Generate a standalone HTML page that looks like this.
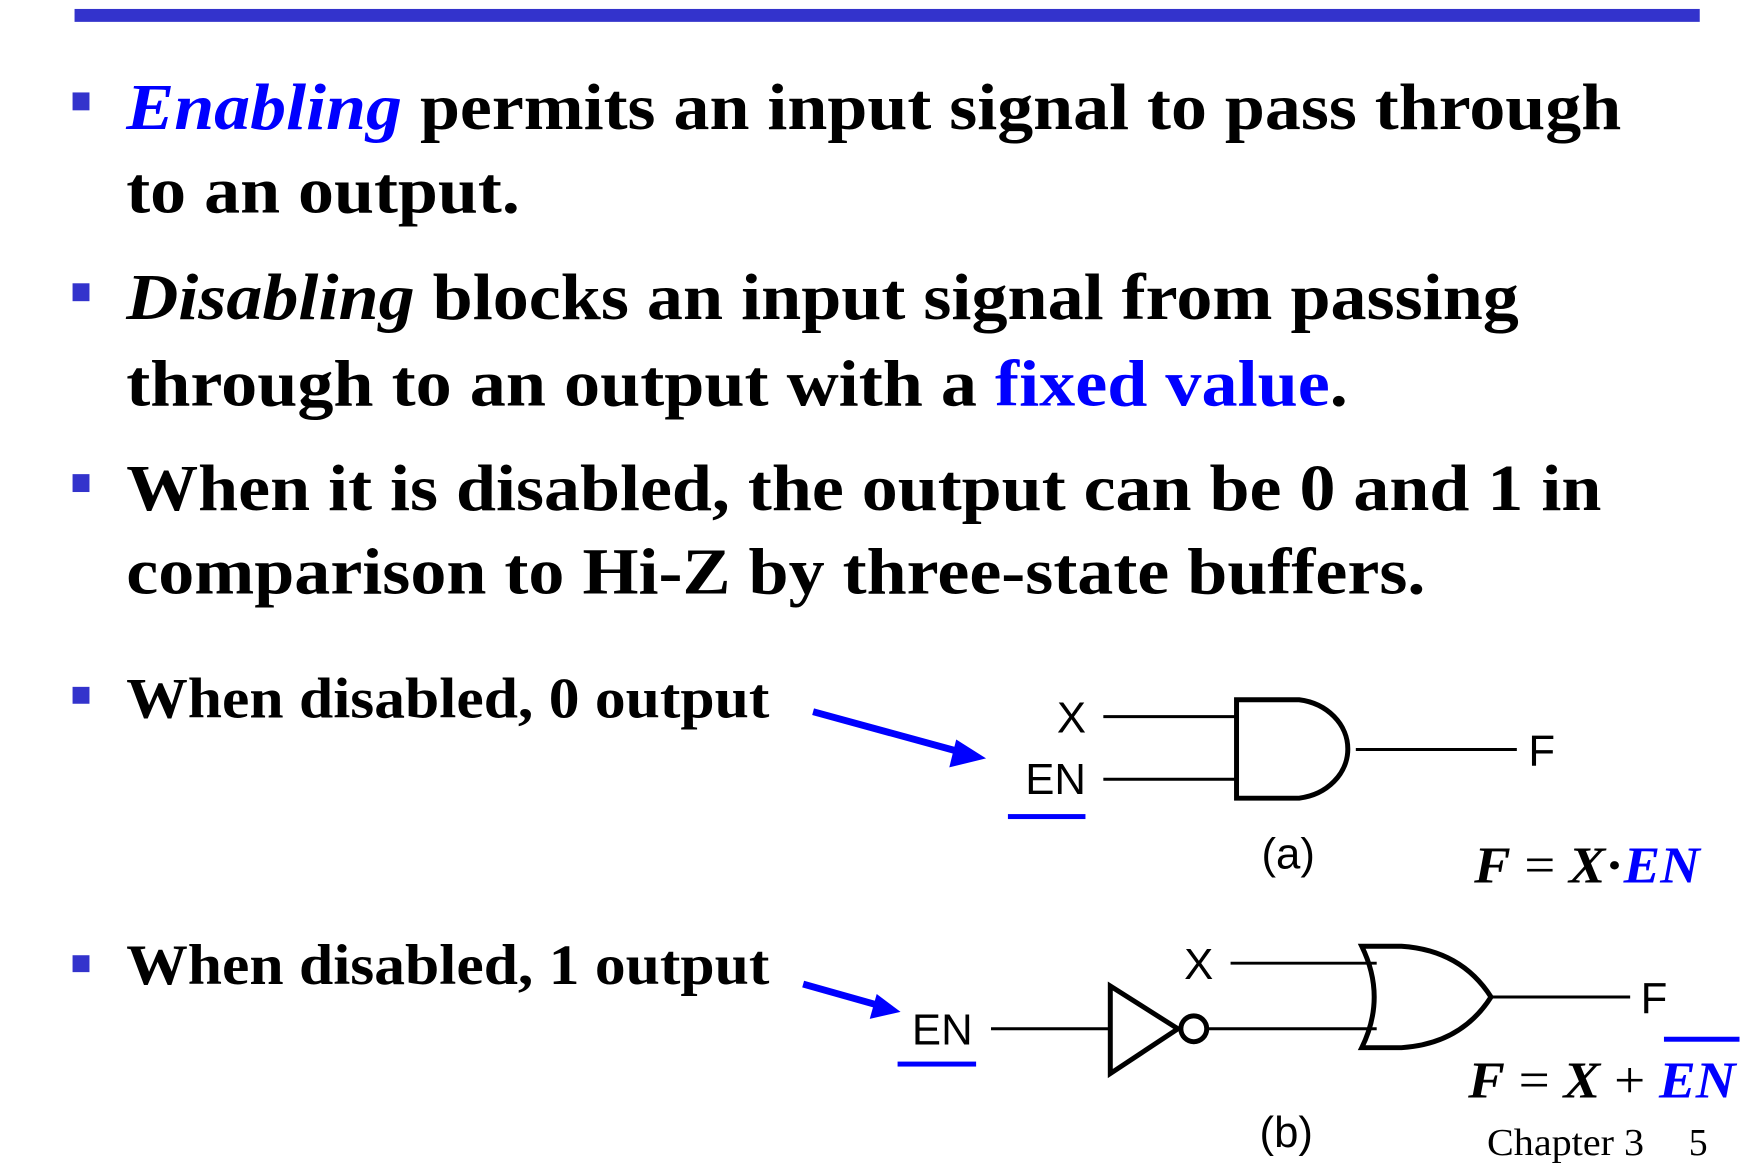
<!DOCTYPE html>
<html><head><meta charset="utf-8"><style>
html,body{margin:0;padding:0;background:#fff}
svg{display:block}
.t{font-family:"Liberation Serif",serif;font-weight:bold;font-size:66px;fill:#000}
.s{font-family:"Liberation Sans",sans-serif;font-size:44px;fill:#000}
.b{fill:#0000ff}
</style></head><body>
<svg width="1755" height="1172" viewBox="0 0 1755 1172" xmlns="http://www.w3.org/2000/svg">
<g transform="scale(0.994)">
<rect x="75" y="9" width="1635" height="13" fill="#3333cc"/>
<g fill="#3333cc">
<rect x="73" y="93" width="17" height="18"/>
<rect x="73" y="285" width="17" height="18"/>
<rect x="73" y="477" width="17" height="18"/>
<rect x="73" y="691" width="17" height="17"/>
<rect x="73" y="961" width="17" height="17"/>
</g>
<text class="t" x="127" y="130" textLength="1504" lengthAdjust="spacingAndGlyphs"><tspan class="b" font-style="italic">Enabling</tspan> permits an input signal to pass through</text>
<text class="t" x="127" y="214" textLength="396" lengthAdjust="spacingAndGlyphs">to an output.</text>
<text class="t" x="127" y="321" textLength="1401" lengthAdjust="spacingAndGlyphs"><tspan font-style="italic">Disabling</tspan> blocks an input signal from passing</text>
<text class="t" x="127" y="408" textLength="1229" lengthAdjust="spacingAndGlyphs">through to an output with a <tspan class="b">fixed value</tspan>.</text>
<text class="t" x="127" y="513" textLength="1484" lengthAdjust="spacingAndGlyphs">When it is disabled, the output can be 0 and 1 in</text>
<text class="t" x="127" y="597" textLength="1307" lengthAdjust="spacingAndGlyphs">comparison to Hi-Z by three-state buffers.</text>
<text class="t" style="font-size:58px" x="127" y="722" textLength="647" lengthAdjust="spacingAndGlyphs">When disabled, 0 output</text>
<text class="t" style="font-size:58px" x="127" y="990" textLength="647" lengthAdjust="spacingAndGlyphs">When disabled, 1 output</text>

<g stroke="#0000ff" stroke-width="7" fill="#0000ff">
<line x1="818" y1="716" x2="968" y2="757"/>
<polygon points="992,763 962,744 955,772" stroke="none"/>
<line x1="808" y1="990" x2="886" y2="1012"/>
<polygon points="906,1018 882,1000 875,1025" stroke="none"/>
</g>

<g stroke="#000" stroke-width="3" fill="none">
<line x1="1110" y1="721" x2="1244" y2="721"/>
<line x1="1110" y1="784" x2="1244" y2="784"/>
<line x1="1364" y1="754" x2="1526" y2="754"/>
</g>
<path d="M1244,704 L1307,704 A57,50 0 0 1 1307,803 L1244,803 Z" fill="none" stroke="#000" stroke-width="5"/>
<text class="s" x="1078" y="737" text-anchor="middle">X</text>
<text class="s" x="1062" y="799" text-anchor="middle">EN</text>
<rect x="1014" y="819" width="78" height="5" fill="#0000ff"/>
<text class="s" x="1551" y="770" text-anchor="middle">F</text>
<text class="s" x="1296" y="874" text-anchor="middle">(a)</text>
<text x="1483" y="888" style="font-family:'Liberation Serif',serif;font-size:52px;font-weight:bold;font-style:italic" textLength="227" lengthAdjust="spacingAndGlyphs">F<tspan font-style="normal" font-weight="normal"> = </tspan>X<tspan font-style="normal">·</tspan><tspan fill="#0000ff">EN</tspan></text>

<g stroke="#000" stroke-width="3" fill="none">
<line x1="997" y1="1035" x2="1117" y2="1035"/>
<line x1="1215" y1="1035" x2="1385" y2="1035"/>
<line x1="1238" y1="969" x2="1385" y2="969"/>
<line x1="1500" y1="1003" x2="1640" y2="1003"/>
</g>
<polygon points="1117,992 1117,1080 1185,1035" fill="none" stroke="#000" stroke-width="5"/>
<circle cx="1201" cy="1035" r="13" fill="none" stroke="#000" stroke-width="5"/>
<path d="M1370,952 Q1395,1003 1370,1054 L1410,1054 Q1470,1050 1500,1003 Q1470,956 1410,952 Z" fill="none" stroke="#000" stroke-width="5"/>
<text class="s" x="1206" y="985" text-anchor="middle">X</text>
<text class="s" x="948" y="1051" text-anchor="middle">EN</text>
<rect x="903" y="1068" width="79" height="5" fill="#0000ff"/>
<text class="s" x="1664" y="1019" text-anchor="middle">F</text>
<rect x="1674" y="1043" width="76" height="5" fill="#0000ff"/>
<text x="1477" y="1104" style="font-family:'Liberation Serif',serif;font-size:52px;font-weight:bold;font-style:italic" textLength="269" lengthAdjust="spacingAndGlyphs">F<tspan font-style="normal" font-weight="normal"> = </tspan>X<tspan font-style="normal" font-weight="normal"> + </tspan><tspan fill="#0000ff">EN</tspan></text>
<text class="s" x="1294" y="1154" text-anchor="middle">(b)</text>
<text x="1496" y="1162" style="font-family:'Liberation Serif',serif;font-size:38px" textLength="158" lengthAdjust="spacingAndGlyphs">Chapter 3</text>
<text x="1699" y="1162" style="font-family:'Liberation Serif',serif;font-size:38px">5</text>
</g>
</svg>
</body></html>
